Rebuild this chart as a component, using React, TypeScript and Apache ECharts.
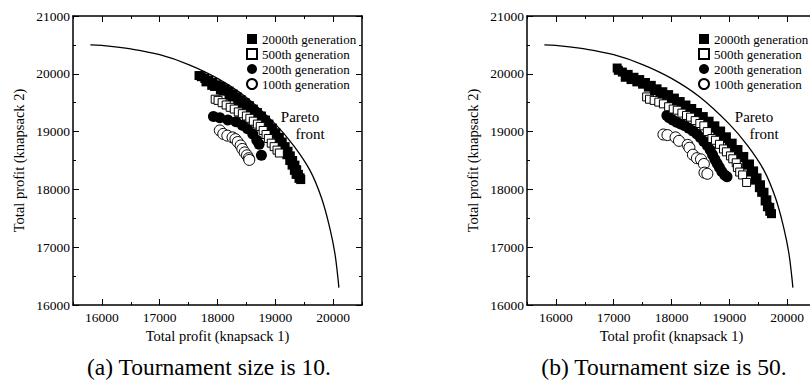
import React, { useEffect, useRef } from "react";
import * as echarts from "echarts";

const FONT = "'Liberation Serif', 'Times New Roman', serif";

const seriesNames = ["2000th generation", "500th generation", "200th generation", "100th generation"];
const xTicks = [16000, 17000, 18000, 19000, 20000];
const yTicks = [16000, 17000, 18000, 19000, 20000, 21000];
const captions = ["(a) Tournament size is 10.", "(b) Tournament size is 50."];

// Pareto front
const paretoFront: [number, number][] = [
  [15800, 20500], [16000, 20490], [16500, 20430], [17000, 20330], [17500, 20160],
  [18000, 19920], [18500, 19590], [19000, 19130], [19300, 18780], [19600, 18330],
  [19800, 17850], [19950, 17300], [20030, 16900], [20080, 16500], [20100, 16300],
];

// (a) Tournament size 10
const a2000: [number, number][] = [
  [17680, 19970], [17720, 19950], [17780, 19920], [17850, 19890], [17920, 19850],
  [17990, 19810], [18060, 19780], [18130, 19740], [18200, 19700], [18270, 19650],
  [18340, 19600], [18410, 19550], [18480, 19500], [18550, 19450], [18620, 19390],
  [18690, 19330], [18760, 19270], [18830, 19200], [18890, 19130], [18950, 19060],
  [19010, 18980], [19070, 18900], [19120, 18820], [19170, 18740], [19220, 18660],
  [19260, 18580], [19300, 18500], [19340, 18420], [19370, 18340], [19400, 18260],
  [19430, 18200], [19440, 18170],
  [17800, 19860], [17950, 19780], [18100, 19700], [18250, 19600], [18400, 19490],
  [18550, 19380], [18700, 19250], [18850, 19110], [18980, 18960], [19100, 18780],
  [19200, 18600], [19290, 18420], [19360, 18260],
  [17900, 19800], [18050, 19720], [18200, 19630], [18350, 19530], [18500, 19420],
  [18650, 19300], [18800, 19160], [18930, 19000], [19050, 18840], [19150, 18680],
  [19250, 18500], [19330, 18330], [19410, 18190],
];
const a500: [number, number][] = [
  [17960, 19560], [18010, 19540], [18080, 19500], [18150, 19460], [18220, 19420],
  [18290, 19390], [18360, 19340], [18430, 19310], [18500, 19270], [18560, 19230],
  [18620, 19180], [18690, 19130], [18740, 19090], [18790, 19020], [18840, 18950],
  [18880, 18880], [18930, 18800], [18980, 18740], [19030, 18680], [19070, 18630],
];
const a200: [number, number][] = [
  [17930, 19260], [18040, 19240], [18180, 19200], [18320, 19170], [18430, 19110],
  [18520, 19050], [18610, 18960], [18680, 18850], [18720, 18780], [18760, 18590],
];
const a100: [number, number][] = [
  [18040, 19020], [18100, 18960], [18170, 18930], [18260, 18900], [18310, 18870],
  [18350, 18820], [18400, 18760], [18430, 18700], [18470, 18640], [18510, 18590],
  [18540, 18540], [18550, 18510],
];

// (b) Tournament size 50
const b2000: [number, number][] = [
  [17060, 20100], [17080, 20060], [17150, 20030], [17250, 19990], [17350, 19940],
  [17450, 19900], [17550, 19850], [17650, 19800], [17750, 19740], [17850, 19690],
  [17950, 19640], [18050, 19580], [18150, 19520], [18250, 19460], [18350, 19400],
  [18450, 19330], [18550, 19260], [18650, 19180], [18750, 19100], [18850, 19010],
  [18950, 18910], [19050, 18800], [19150, 18690], [19250, 18570], [19350, 18440],
  [19420, 18320], [19480, 18200], [19540, 18080], [19600, 17950], [19650, 17820],
  [19700, 17690], [19730, 17580],
  [17300, 19900], [17500, 19820], [17700, 19710], [17900, 19600], [18100, 19480],
  [18300, 19360], [18500, 19220], [18700, 19060], [18900, 18880], [19100, 18660],
  [19300, 18420], [19450, 18160], [19560, 17950], [19660, 17700],
  [17200, 19940], [17400, 19860], [17600, 19770], [17800, 19650], [18000, 19540],
  [18200, 19420], [18400, 19290], [18600, 19140], [18800, 18970], [19000, 18780],
  [19200, 18550], [19380, 18300], [19520, 18030], [19620, 17800], [19700, 17620],
];
const b500: [number, number][] = [
  [17570, 19600], [17620, 19560], [17700, 19540], [17780, 19510], [17860, 19480],
  [17950, 19430], [18030, 19390], [18100, 19370], [18180, 19320], [18260, 19280],
  [18330, 19250], [18410, 19190], [18490, 19140], [18560, 19100], [18620, 19000],
  [18700, 18880], [18760, 18850], [18830, 18780], [18900, 18700], [18950, 18650],
  [19020, 18580], [19060, 18530], [19120, 18460], [19140, 18380], [19180, 18300],
  [19230, 18250], [19300, 18120],
];
const b200: [number, number][] = [
  [17920, 19280], [17960, 19240], [18020, 19200], [18090, 19160], [18160, 19130],
  [18230, 19100], [18300, 19060], [18370, 19010], [18440, 18960], [18500, 18900],
  [18560, 18830], [18620, 18760], [18670, 18680], [18710, 18600], [18750, 18520],
  [18790, 18450], [18830, 18380], [18870, 18310], [18920, 18250], [18960, 18220],
];
const b100: [number, number][] = [
  [17860, 18950], [17930, 18940], [18070, 18900], [18130, 18840], [18280, 18770],
  [18310, 18720], [18370, 18600], [18440, 18540], [18510, 18520], [18560, 18440],
  [18570, 18290], [18620, 18270],
];

const panels = [
  { d2000: a2000, d500: a500, d200: a200, d100: a100 },
  { d2000: b2000, d500: b500, d200: b200, d100: b100 },
];

const gridLefts = [73, 527];
const black = "#000";

function buildOption() {
  const grids: any[] = [];
  const xAxes: any[] = [];
  const yAxes: any[] = [];
  const series: any[] = [];
  const legends: any[] = [];
  const graphics: any[] = [];

  panels.forEach((p, i) => {
    grids.push({ left: gridLefts[i], top: 16, width: 289, height: 289, containLabel: false, outerBoundsMode: "none" });
    const base = {
      gridIndex: i,
      type: "value",
      splitLine: { show: false },
    };
    const xr = { min: 15500, max: 20500 };
    const yr = { min: 16000, max: 21000 };
    xAxes.push({
      ...base, ...xr, position: "bottom", interval: 500,
      axisLine: { show: true, lineStyle: { color: black, width: 1.5 } },
      axisTick: { show: true, inside: true, length: 3, lineStyle: { color: black, width: 1 } },
      axisLabel: {
        show: true, margin: 5, color: black, fontFamily: FONT, fontSize: 13.5,
        formatter: (v: number) => (xTicks.indexOf(v) >= 0 ? String(v) : ""),
      },
      name: "Total profit (knapsack 1)", nameLocation: "middle", nameGap: 20,
      nameTextStyle: { color: black, fontFamily: FONT, fontSize: 14.5 },
    });
    xAxes.push({
      ...base, ...xr, position: "bottom",
      axisLine: { show: false },
      axisTick: { show: true, inside: true, length: 6, customValues: xTicks, lineStyle: { color: black, width: 1 } },
      axisLabel: { show: false },
    });
    xAxes.push({
      ...base, ...xr, position: "top", interval: 500,
      axisLine: { show: true, lineStyle: { color: black, width: 1.5 } },
      axisTick: { show: true, inside: true, length: 3, lineStyle: { color: black, width: 1 } },
      axisLabel: { show: false },
    });
    xAxes.push({
      ...base, ...xr, position: "top",
      axisLine: { show: false },
      axisTick: { show: true, inside: true, length: 6, customValues: xTicks, lineStyle: { color: black, width: 1 } },
      axisLabel: { show: false },
    });
    yAxes.push({
      ...base, ...yr, position: "left", interval: 500,
      axisLine: { show: true, lineStyle: { color: black, width: 1.5 } },
      axisTick: { show: true, inside: true, length: 3, lineStyle: { color: black, width: 1 } },
      axisLabel: {
        show: true, margin: 3, color: black, fontFamily: FONT, fontSize: 13.5,
        formatter: (v: number) => (yTicks.indexOf(v) >= 0 ? String(v) : ""),
      },
      name: "Total profit (knapsack 2)", nameLocation: "middle", nameGap: 47,
      nameTextStyle: { color: black, fontFamily: FONT, fontSize: 14.5 },
    });
    yAxes.push({
      ...base, ...yr, position: "left",
      axisLine: { show: false },
      axisTick: { show: true, inside: true, length: 6, customValues: yTicks, lineStyle: { color: black, width: 1 } },
      axisLabel: { show: false },
    });
    yAxes.push({
      ...base, ...yr, position: "right", interval: 500,
      axisLine: { show: true, lineStyle: { color: black, width: 1.5 } },
      axisTick: { show: true, inside: true, length: 3, lineStyle: { color: black, width: 1 } },
      axisLabel: { show: false },
    });
    yAxes.push({
      ...base, ...yr, position: "right",
      axisLine: { show: false },
      axisTick: { show: true, inside: true, length: 6, customValues: yTicks, lineStyle: { color: black, width: 1 } },
      axisLabel: { show: false },
    });

    const ax = i * 4;
    const common = { xAxisIndex: ax, yAxisIndex: ax, type: "scatter" };
    series.push({
      ...common, name: "Pareto front", type: "line", data: paretoFront,
      showSymbol: false, symbol: "none", smooth: 0.4,
      lineStyle: { color: black, width: 1.3 }, z: 5,
    });
    series.push({
      ...common, name: seriesNames[0], data: p.d2000, symbol: "rect", symbolSize: 9,
      itemStyle: { color: black, opacity: 1 }, z: 2,
    });
    series.push({
      ...common, name: seriesNames[2], data: p.d200, symbol: "circle", symbolSize: 11,
      itemStyle: { color: black, opacity: 1 }, z: 2,
    });
    series.push({
      ...common, name: seriesNames[3], data: p.d100, symbol: "circle", symbolSize: 11,
      itemStyle: { color: "#fff", borderColor: black, borderWidth: 1, opacity: 1 }, z: 3,
    });
    series.push({
      ...common, name: seriesNames[1], data: p.d500, symbol: "rect", symbolSize: 8,
      itemStyle: { color: "#fff", borderColor: black, borderWidth: 1, opacity: 1 }, z: 4,
    });

    legends.push({
      data: seriesNames, orient: "vertical", left: [241, 693][i], top: 27,
      itemWidth: 10, itemHeight: 10, itemGap: 1, selectedMode: false,
      textStyle: { color: black, fontFamily: FONT, fontSize: 13, lineHeight: 14 },
    });

    const gx = gridLefts[i];
    graphics.push({
      type: "text", x: gx + 227, y: 117,
      style: { text: "Pareto", fill: black, font: `15px ${FONT}`, textAlign: "center", textVerticalAlign: "middle" },
    });
    graphics.push({
      type: "text", x: gx + 237, y: 134,
      style: { text: "front", fill: black, font: `15px ${FONT}`, textAlign: "center", textVerticalAlign: "middle" },
    });
    graphics.push({
      type: "text", x: [209, 664][i], y: 367,
      style: { text: captions[i], fill: black, font: `23.5px ${FONT}`, textAlign: "center", textVerticalAlign: "middle" },
    });
  });

  return {
    animation: false,
    backgroundColor: "#fff",
    grid: grids,
    xAxis: xAxes,
    yAxis: yAxes,
    legend: legends,
    series,
    graphic: graphics,
  };
}

export default function App() {
  const ref = useRef<HTMLDivElement>(null);
  useEffect(() => {
    if (!ref.current) return;
    const chart = echarts.init(ref.current, undefined, { renderer: "svg" });
    chart.setOption(buildOption() as any);
    return () => chart.dispose();
  }, []);
  return (
    <div
      ref={ref}
      style={{ position: "fixed", left: 0, top: 0, width: 810, height: 383, background: "#fff" }}
    />
  );
}
